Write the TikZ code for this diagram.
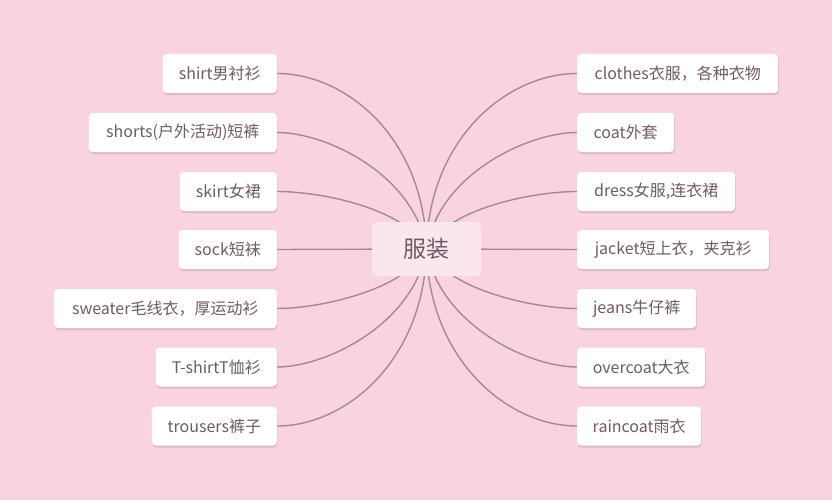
\documentclass[tikz,border=0pt]{standalone}
\usepackage{fontspec}
\setmainfont{Noto Sans CJK SC}
\usetikzlibrary{shadows,calc}
\definecolor{bg}{HTML}{F9D4DF}
\definecolor{txt}{HTML}{6E5A68}
\definecolor{ln}{HTML}{A2899A}
\definecolor{ctr}{HTML}{FCE6ED}
\tikzset{
  leaf/.style={fill=white, rounded corners=4pt, minimum height=39pt, inner xsep=6pt, text=txt,
    font=\fontsize{16}{16}\selectfont,
    drop shadow={shadow xshift=0.6pt, shadow yshift=-2pt, fill=black!70!magenta, opacity=0.18}},
  lnk/.style={draw=ln, line width=1.4pt},
}
\begin{document}
\begin{tikzpicture}[x=1pt,y=-1pt]
\fill[bg] (0,0) rectangle (832,500);
\useasboundingbox (0,0) rectangle (832,500);
\coordinate (c) at (426.5,249);
% left
\node[leaf, minimum width=114pt, anchor=east] (l1) at (277,73.5) {shirt男衬衫};
\node[leaf, minimum width=188pt, anchor=east] (l2) at (277,132.5) {shorts(户外活动)短裤};
\node[leaf, minimum width=97pt, anchor=east] (l3) at (277,191.5) {skirt女裙};
\node[leaf, minimum width=98pt, anchor=east] (l4) at (277,249.5) {sock短袜};
\node[leaf, minimum width=223pt, anchor=east] (l5) at (277,308.5) {sweater毛线衣，厚运动衫};
\node[leaf, minimum width=121pt, anchor=east] (l6) at (277,367) {T-shirtT恤衫};
\node[leaf, minimum width=125pt, anchor=east] (l7) at (277,426) {trousers裤子};
% right
\node[leaf, minimum width=201pt, anchor=west] (r1) at (577,73.5) {clothes衣服，各种衣物};
\node[leaf, minimum width=97pt, anchor=west] (r2) at (577,132.5) {coat外套};
\node[leaf, minimum width=158pt, anchor=west] (r3) at (577,191.5) {dress女服,连衣裙};
\node[leaf, minimum width=192pt, anchor=west] (r4) at (577,249.5) {jacket短上衣，夹克衫};
\node[leaf, minimum width=119pt, anchor=west] (r5) at (577,308.5) {jeans牛仔裤};
\node[leaf, minimum width=128pt, anchor=west] (r6) at (577,367) {overcoat大衣};
\node[leaf, minimum width=124pt, anchor=west] (r7) at (577,426) {raincoat雨衣};
% connectors
\foreach \n/\a/\dx/\dy in {1/70/-2/-110, 2/50/-12/-74, 3/43/-21/-41,
                           7/70/-2/110, 6/50/-12/74, 5/43/-21/41}{
  \draw[lnk] (l\n.east) .. controls +(\a,0) and ($(c)+(\dx,\dy)$) .. (c);
  \draw[lnk] (r\n.west) .. controls +(-\a,0) and ($(c)+(-\dx,\dy)$) .. (c);
}
\draw[lnk] (l4.east) -- (c) -- (r4.west);
% center
\node[fill=ctr, rounded corners=5pt, minimum width=109pt, minimum height=54pt, text=txt,
  font=\fontsize{23}{23}\selectfont] (root) at (c) {服装};
\end{tikzpicture}
\end{document}
